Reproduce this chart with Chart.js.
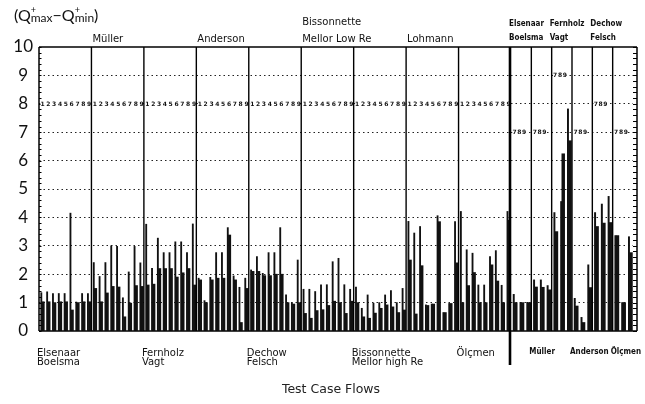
<!DOCTYPE html>
<html>
<head>
<meta charset="utf-8">
<script src="https://cdn.jsdelivr.net/npm/chart.js@4/dist/chart.umd.min.js"></script>
<style>
  html, body { margin: 0; padding: 0; background: #fff; }
  #wrap { position: relative; width: 645px; height: 404px; }
  #wrap canvas { position: absolute; left: 0; top: 0; }
</style>
</head>
<body>
<div id="wrap">
  <canvas id="mainChart" width="645" height="404"></canvas>
  <canvas id="sideChart" width="645" height="404"></canvas>
</div>
<script>
/* ================================
   data: measuring stations 1..9 per flow (left),
   stations 7..9 only (right block)
=================================*/
const mainGroups = [
  ['Elsenaar', 'Boelsma'], ['Müller'], ['Fernholz', 'Vagt'], ['Anderson'],
  ['Dechow', 'Felsch'], ['Bissonnette', 'Mellor Low Re'], ['Bissonnette', 'Mellor high Re'],
  ['Lohmann'], ['Ölçmen']
];
const mainStations = ['1', '2', '3', '4', '5', '6', '7', '8', '9'];

const sideGroups = [['Elsenaar', 'Boelsma'], ['Müller'], ['Fernholz', 'Vagt'], ['Anderson'], ['Dechow', 'Felsch'], ['Ölçmen']];
const sideStations = ['7', '8', '9'];
const sideTagLevel = [7, 7, 9, 7, 8, 7];   // height of the "789" tag per flow

const yTicks = [0, 1, 2, 3, 4, 5, 6, 7, 8, 9, 10];

// thin line = peak value, thick bar = lower value
const mainPeak = [
  1.35, 1.38, 1.32, 1.32, 1.32, 4.15, 1.02, 1.32, 1.32,
  2.41, 1.92, 2.41, 3.00, 2.98, 1.17, 2.08, 2.98, 2.40,
  3.76, 2.21, 3.27, 2.76, 2.76, 3.14, 3.14, 2.76, 3.77,
  1.86, 1.07, 1.89, 2.76, 2.76, 3.64, 1.94, 1.54, 1.86,
  2.15, 2.62, 2.03, 2.76, 2.76, 3.64, 1.27, 1.00, 2.50,
  1.47, 1.47, 1.39, 1.63, 1.63, 2.44, 2.56, 1.63, 1.47,
  1.55, 0.80, 1.27, 0.98, 1.00, 1.27, 1.42, 1.00, 1.50,
  3.86, 3.45, 3.68, 0.92, 0.95, 4.06, 0.65, 0.97, 3.85,
  4.21, 2.86, 2.74, 1.62, 1.62, 2.62, 2.83, 1.61, 4.21
];
const mainBase = [
  1.03, 1.03, 1.00, 1.03, 1.03, 0.74, 1.00, 1.03, 1.03,
  1.50, 1.03, 1.34, 1.57, 1.55, 0.50, 0.98, 1.60, 1.57,
  1.62, 1.65, 2.20, 2.20, 2.20, 1.90, 2.05, 2.20, 1.62,
  1.80, 1.00, 1.80, 1.86, 1.86, 3.38, 1.80, 0.30, 1.50,
  2.10, 2.10, 1.95, 1.95, 2.00, 2.00, 1.00, 0.95, 1.00,
  0.62, 0.45, 0.72, 0.75, 0.90, 1.05, 1.00, 0.62, 1.05,
  1.00, 0.50, 0.45, 0.63, 0.80, 0.92, 0.85, 0.65, 0.74,
  2.50, 0.60, 2.30, 0.90, 0.95, 3.85, 0.65, 0.97, 2.40,
  1.00, 1.60, 2.06, 1.00, 1.00, 2.33, 1.76, 1.00, 3.90
];
const sidePeak = [1.29, 1.01, 1.01, 1.80, 1.80, 1.60, 4.17, 4.56, 7.82, 1.15, 0.48, 2.33, 4.17, 4.47, 4.74, 3.36, 1.00, 3.32];
const sideBase = [1.00, 1.00, 1.00, 1.55, 1.54, 1.45, 3.50, 6.24, 6.70, 0.88, 0.30, 1.53, 3.68, 3.80, 3.82, 3.36, 1.00, 2.76];

const mainLabels = mainGroups.flatMap((g, gi) => mainStations.map(s => gi + '-' + s));
const sideLabels = sideGroups.flatMap((g, gi) => sideStations.map(s => gi + '-' + s));

const INK = '#111';
const FONT = '"DejaVu Sans", sans-serif';
const THIN = 'Lato, "DejaVu Sans", sans-serif';
const SMALL = '"Liberation Sans Narrow", "DejaVu Sans Condensed", sans-serif';

function line(ctx, x1, y1, x2, y2) {
  ctx.beginPath(); ctx.moveTo(x1, y1); ctx.lineTo(x2, y2); ctx.stroke();
}

function groupLeft(x, gi, n) {
  const pitch = x.getPixelForValue(1) - x.getPixelForValue(0);
  return x.getPixelForValue(gi * n) - pitch / 2;
}

function gridColor(c) {
  return (c.tick.value === 0 || c.tick.value === 10) ? 'rgba(0,0,0,0)' : '#222';
}

/* ================================
   left block: axis, frame, labels
=================================*/
const mainDecor = {
  id: 'mainDecor',
  afterDraw(chart) {
    const { ctx, chartArea: a, scales: { x, y } } = chart;
    ctx.save();
    ctx.strokeStyle = '#000';
    ctx.fillStyle = INK;

    // frame
    ctx.lineWidth = 1.5;
    line(ctx, a.left, a.top, a.right, a.top);
    line(ctx, a.left, a.bottom, a.right, a.bottom);
    line(ctx, a.left, a.top, a.left, a.bottom);

    // minor ticks on the left axis
    ctx.lineWidth = 1;
    for (let v = 0; v <= 10.001; v += 0.2) {
      const py = Math.round(y.getPixelForValue(v)) + 0.5;
      line(ctx, a.left, py, a.left + 2.5, py);
    }

    // flow separators + station numbers on the 8 line
    ctx.textAlign = 'center';
    ctx.textBaseline = 'middle';
    const y8 = y.getPixelForValue(8);
    mainGroups.forEach((g, gi) => {
      const gl = groupLeft(x, gi, 9);
      const gr = groupLeft(x, gi + 1, 9);
      if (gi > 0) { ctx.lineWidth = 1.4; line(ctx, gl, a.top, gl, a.bottom); }
      ctx.fillStyle = '#fff';
      ctx.fillRect(gl + 1.5, y8 - 3.5, gr - gl - 3, 7);
      ctx.fillStyle = INK;
      ctx.font = 'bold 6px ' + FONT;
      mainStations.forEach((s, k) => ctx.fillText(s, x.getPixelForValue(gi * 9 + k) + 0.6, y8 + 0.5));
    });

    // flow names, alternating below / above
    ctx.textAlign = 'left';
    ctx.textBaseline = 'alphabetic';
    ctx.font = '10px ' + FONT;
    mainGroups.forEach((names, gi) => {
      const gl = groupLeft(x, gi, 9);
      if (gi % 2 === 0) {
        names.forEach((t, k) => ctx.fillText(t, gl - 2, a.bottom + 25 + k * 9));
      } else {
        names.forEach((t, k) => ctx.fillText(t, gl + 1, a.top - 5 - (names.length - 1 - k) * 17));
      }
    });

    // axis title
    ctx.fillStyle = '#222';
    ctx.font = '12.5px ' + FONT;
    ctx.textAlign = 'center';
    ctx.fillText('Test Case Flows', 331, 393);

    // quantity label (Q+max - Q+min)
    ctx.fillStyle = INK;
    ctx.textAlign = 'left';
    let cx = 14;
    const base = 21;
    const big = '16px ' + THIN, sub = '12px ' + THIN, sup = '9px ' + THIN;
    const put = (t, f, dy) => { ctx.font = f; ctx.fillText(t, cx, base + dy); cx += ctx.measureText(t).width; };
    put('(Q', big, 0);
    ctx.font = sup; ctx.fillText('+', cx, base - 8);
    put('max', sub, 1);
    put('\u2212', big, 0);
    put('Q', big, 0);
    ctx.font = sup; ctx.fillText('+', cx, base - 8);
    put('min', sub, 1);
    put(')', big, 0);

    ctx.restore();
  }
};

/* ================================
   right block: stations 7..9
=================================*/
const sideDecor = {
  id: 'sideDecor',
  afterDraw(chart) {
    const { ctx, chartArea: a, scales: { x, y } } = chart;
    const edge = a.right + 4;
    ctx.save();
    ctx.strokeStyle = '#000';
    ctx.fillStyle = INK;

    ctx.lineWidth = 1.5;
    line(ctx, a.left, a.top, edge, a.top);
    line(ctx, a.left, a.bottom, edge, a.bottom);
    line(ctx, edge, a.top, edge, a.bottom);

    ctx.lineWidth = 1;
    for (let v = 0; v <= 10.001; v += 0.2) {
      const py = Math.round(y.getPixelForValue(v)) + 0.5;
      line(ctx, edge - 4, py, edge, py);
    }

    // heavy divider between the two blocks
    ctx.lineWidth = 2.6;
    line(ctx, a.left - 1, a.top, a.left - 1, a.bottom + 34);

    ctx.textAlign = 'center';
    ctx.textBaseline = 'middle';
    sideGroups.forEach((g, gi) => {
      const gl = groupLeft(x, gi, 3);
      if (gi > 0) { ctx.lineWidth = 1.4; line(ctx, gl, a.top, gl, a.bottom); }
      const ty = y.getPixelForValue(sideTagLevel[gi]);
      ctx.fillStyle = '#fff';
      ctx.fillRect(gl + 1.5, ty - 3.5, 13, 7);
      ctx.fillStyle = INK;
      ctx.font = 'bold 6px ' + FONT;
      sideStations.forEach((s, k) => ctx.fillText(s, gl + 3.5 + k * 4.8, ty + 0.5));
    });

    ctx.textAlign = 'left';
    ctx.textBaseline = 'alphabetic';
    ctx.font = 'bold 8px ' + SMALL;
    sideGroups.forEach((names, gi) => {
      const gl = groupLeft(x, gi, 3);
      if (gi % 2 === 0) {
        names.forEach((t, k) => ctx.fillText(t, gl - 2, a.top - 7 - (names.length - 1 - k) * 14));
      } else {
        names.forEach((t, k) => ctx.fillText(t, gl - 2, a.bottom + 23 + k * 10));
      }
    });
    ctx.restore();
  }
};

const noPlugins = { legend: { display: false }, tooltip: { enabled: false } };

const mainChart = new Chart(document.getElementById('mainChart'), {
  type: 'bar',
  data: {
    labels: mainLabels,
    datasets: [
      { data: mainPeak, backgroundColor: INK, barThickness: 1.2 },
      { data: mainBase, backgroundColor: INK, barThickness: 2.4 }
    ]
  },
  options: {
    responsive: false,
    animation: false,
    layout: { padding: { top: 47, bottom: 73, left: 0, right: 134 } },
    plugins: noPlugins,
    scales: {
      x: { display: false },
      y: {
        min: 0, max: 10,
        afterFit: s => { s.width = 39; },
        afterBuildTicks: s => { s.ticks = yTicks.map(v => ({ value: v })); },
        ticks: { padding: 6, crossAlign: 'center', color: INK, font: { family: THIN, size: 17 } },
        grid: { color: gridColor, drawTicks: false, lineWidth: 1 },
        border: { display: false, dash: [1.5, 3] }
      }
    }
  },
  plugins: [mainDecor]
});

const sideChart = new Chart(document.getElementById('sideChart'), {
  type: 'bar',
  data: {
    labels: sideLabels,
    datasets: [
      { data: sidePeak, backgroundColor: INK, barThickness: 1.3 },
      { data: sideBase, backgroundColor: INK, barThickness: 2.8 }
    ]
  },
  options: {
    responsive: false,
    animation: false,
    layout: { padding: { top: 47, bottom: 73, left: 511, right: 12 } },
    plugins: noPlugins,
    scales: {
      x: { display: false },
      y: {
        min: 0, max: 10,
        afterFit: s => { s.width = 0; },
        afterBuildTicks: s => { s.ticks = yTicks.map(v => ({ value: v })); },
        ticks: { display: false },
        grid: { color: gridColor, drawTicks: false, lineWidth: 1 },
        border: { display: false, dash: [1.5, 3] }
      }
    }
  },
  plugins: [sideDecor]
});
</script>
</body>
</html>
